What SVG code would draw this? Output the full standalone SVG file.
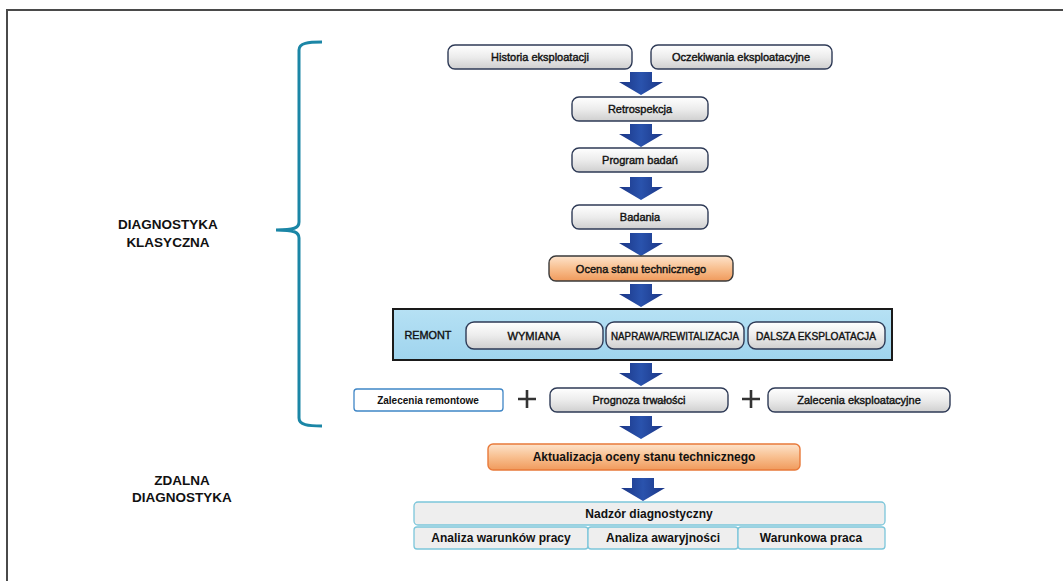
<svg xmlns="http://www.w3.org/2000/svg" width="1063" height="581" viewBox="0 0 1063 581">
<defs>
<linearGradient id="gGray" x1="0" y1="0" x2="0" y2="1">
<stop offset="0" stop-color="#ffffff"/><stop offset="0.5" stop-color="#ececec"/><stop offset="1" stop-color="#cfcfcf"/>
</linearGradient>
<linearGradient id="gOrange" x1="0" y1="0" x2="0" y2="1">
<stop offset="0" stop-color="#fde3cb"/><stop offset="0.5" stop-color="#f8bf8f"/><stop offset="1" stop-color="#f09a5c"/>
</linearGradient>
<linearGradient id="gBlue" x1="0" y1="0" x2="0" y2="1">
<stop offset="0" stop-color="#b6e1f4"/><stop offset="1" stop-color="#9fd4ee"/>
</linearGradient>
<linearGradient id="gArrow" x1="0" y1="0" x2="1" y2="0">
<stop offset="0" stop-color="#1a3585"/><stop offset="0.5" stop-color="#2a53ad"/><stop offset="1" stop-color="#1a3585"/>
</linearGradient>
<path id="arr" d="M-11,0 H11 V10 H22 L0,23 L-22,10 H-11 Z"/>
<style>
.box{fill:url(#gGray);stroke:#2e3a56;stroke-width:1.4}
.obox{fill:url(#gOrange);stroke:#3a3a3a;stroke-width:1.4}
.t{font-family:"Liberation Sans",Arial,sans-serif;font-size:11px;fill:#111;text-anchor:middle;dominant-baseline:central;stroke:#111;stroke-width:0.4}
.tb{font-family:"Liberation Sans",Arial,sans-serif;font-weight:bold;fill:#111;text-anchor:middle;dominant-baseline:central}
.arrow{fill:url(#gArrow)}
.plus{stroke:#333;stroke-width:2.6}
</style>
</defs>
<rect x="0" y="0" width="1063" height="581" fill="#ffffff"/>
<path d="M7,581 V10 H1063" fill="none" stroke="#4a4a4a" stroke-width="2"/>

<g id="brace">
<path d="M322,42 C308,42 299,43 299,50 V222 C299,228 294,230 276,230 C294,230 299,232 299,238 V418 C299,425 308,426 322,426" fill="none" stroke="#1b86a6" stroke-width="3"/>
</g>
<g id="label-klasyczna">
<text class="tb" x="168" y="224" font-size="13.5">DIAGNOSTYKA</text>
<text class="tb" x="168" y="242" font-size="13.5">KLASYCZNA</text>
</g>
<g id="label-zdalna">
<text class="tb" x="182" y="480" font-size="13.5">ZDALNA</text>
<text class="tb" x="182" y="497" font-size="13.5">DIAGNOSTYKA</text>
</g>

<g id="connectors">
<use href="#arr" class="arrow" x="641" y="72"/>
<use href="#arr" class="arrow" x="641" y="124"/>
<use href="#arr" class="arrow" x="641" y="177"/>
<use href="#arr" class="arrow" x="641" y="233"/>
<use href="#arr" class="arrow" x="641" y="284"/>
<use href="#arr" class="arrow" x="641" y="363"/>
<use href="#arr" class="arrow" x="641" y="416"/>
<use href="#arr" class="arrow" x="643" y="478"/>
</g>

<g id="n-historia">
<rect class="box" x="448" y="45" width="184" height="24" rx="7"/>
<text class="t" x="540" y="57">Historia eksploatacji</text>
</g>
<g id="n-oczekiwania">
<rect class="box" x="651" y="45" width="181" height="24" rx="7"/>
<text class="t" x="741" y="57">Oczekiwania eksploatacyjne</text>
</g>
<g id="n-retrospekcja">
<rect class="box" x="572" y="97" width="136" height="24" rx="7"/>
<text class="t" x="640" y="109">Retrospekcja</text>
</g>
<g id="n-program">
<rect class="box" x="572" y="148" width="136" height="24" rx="7"/>
<text class="t" x="640" y="160">Program badań</text>
</g>
<g id="n-badania">
<rect class="box" x="572" y="205" width="136" height="24" rx="7"/>
<text class="t" x="640" y="217">Badania</text>
</g>
<g id="n-ocena">
<rect class="obox" x="549" y="256" width="184" height="25" rx="7"/>
<text class="t" x="641" y="268.5">Ocena stanu technicznego</text>
</g>

<g id="n-remont">
<rect x="393" y="309" width="499" height="51" fill="url(#gBlue)" stroke="#1a1a1a" stroke-width="2"/>
<text class="t" x="428" y="335" font-size="10.5" textLength="47" lengthAdjust="spacingAndGlyphs">REMONT</text>
<rect class="box" x="466" y="322" width="137" height="27" rx="8"/>
<text class="t" x="534" y="335.5" font-size="10.5" textLength="53" lengthAdjust="spacingAndGlyphs">WYMIANA</text>
<rect class="box" x="606" y="322" width="138" height="27" rx="8"/>
<text class="t" x="675" y="335.5" font-size="10.5" textLength="128" lengthAdjust="spacingAndGlyphs">NAPRAWA/REWITALIZACJA</text>
<rect class="box" x="748" y="322" width="137" height="27" rx="8"/>
<text class="t" x="816" y="335.5" font-size="10.5" textLength="120" lengthAdjust="spacingAndGlyphs">DALSZA EKSPLOATACJA</text>
</g>

<g id="n-zalecenia-remontowe">
<rect x="354" y="389" width="149" height="22" rx="3" fill="#ffffff" stroke="#3f86c6" stroke-width="1.3"/>
<text class="tb" x="428" y="400" font-size="10">Zalecenia remontowe</text>
</g>
<g id="plus1"><path class="plus" d="M518,399 H536 M527,390 V408"/></g>
<g id="n-prognoza">
<rect class="box" x="550" y="388" width="178" height="24" rx="7"/>
<text class="t" x="639" y="400">Prognoza trwałości</text>
</g>
<g id="plus2"><path class="plus" d="M742,399 H760 M751,390 V408"/></g>
<g id="n-zalecenia-eksploatacyjne">
<rect class="box" x="768" y="388" width="182" height="24" rx="7"/>
<text class="t" x="859" y="400" font-size="10.5">Zalecenia eksploatacyjne</text>
</g>

<g id="n-aktualizacja">
<rect x="488" y="444" width="312" height="26" rx="5" fill="url(#gOrange)" stroke="#e8793a" stroke-width="1.4"/>
<text class="tb" x="644" y="457" font-size="12">Aktualizacja oceny stanu technicznego</text>
</g>

<g id="n-nadzor">
<rect x="414" y="502" width="471" height="23" rx="4" fill="#eeeeee" stroke="#7cc6da" stroke-width="1.3"/>
<text class="tb" x="649" y="513.5" font-size="12">Nadzór diagnostyczny</text>
</g>
<g id="n-analiza-warunkow">
<rect x="414" y="527" width="174" height="22" rx="3" fill="#eeeeee" stroke="#7cc6da" stroke-width="1.3"/>
<text class="tb" x="501" y="538" font-size="12">Analiza warunków pracy</text>
</g>
<g id="n-analiza-awaryjnosci">
<rect x="588" y="527" width="150" height="22" rx="3" fill="#eeeeee" stroke="#7cc6da" stroke-width="1.3"/>
<text class="tb" x="663" y="538" font-size="12">Analiza awaryjności</text>
</g>
<g id="n-warunkowa">
<rect x="738" y="527" width="147" height="22" rx="3" fill="#eeeeee" stroke="#7cc6da" stroke-width="1.3"/>
<text class="tb" x="811" y="538" font-size="12">Warunkowa praca</text>
</g>
</svg>
